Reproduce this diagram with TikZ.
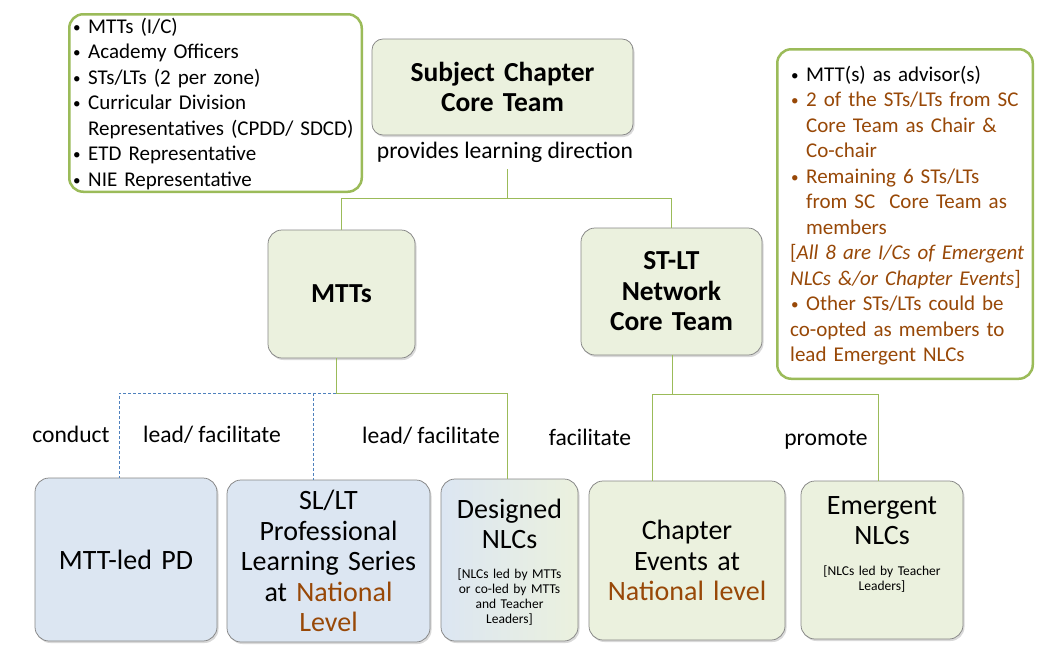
\documentclass[tikz,border=0pt]{standalone}
\usepackage{fontspec}
\setmainfont{Carlito}
\usetikzlibrary{shadows}
\definecolor{boxgreen}{RGB}{235,241,222}
\definecolor{boxblue}{RGB}{220,230,242}
\definecolor{midblue}{RGB}{187,206,230}
\definecolor{olivegreen}{RGB}{155,187,89}
\definecolor{dashblue}{RGB}{79,129,189}
\definecolor{natbrown}{RGB}{152,72,7}
\definecolor{edgegray}{RGB}{134,134,134}
\newcommand{\mybul}{\makebox[16pt][l]{\hspace{1pt}\raisebox{1pt}{\scalebox{0.72}{\textbullet}}}}
\newcommand{\bfirst}[1]{\hangindent=16pt\hangafter=1\mybul#1}
\newcommand{\bitem}[1]{\par\hangindent=16pt\hangafter=1\noindent\mybul#1}
\begin{document}
\begin{tikzpicture}[x=1pt,y=-1pt,
  ubox/.style={draw=edgegray, line width=0.75pt, rounded corners=14pt,
    drop shadow={shadow xshift=1.5pt, shadow yshift=-2pt, opacity=0.3, fill=black!50},
    inner sep=0pt, align=center},
  hdtext/.style={font=\bfseries\fontsize{27.5}{30.5}\selectfont},
  btext/.style={font=\fontsize{28}{30.5}\selectfont},
  smalltext/.style={anchor=base, inner sep=0pt, text width=135pt, align=center,
    font=\fontsize{13.5}{15}\selectfont},
  lbltext/.style={anchor=base, inner sep=0pt, font=\fontsize{23.6}{28}\selectfont},
  listbox/.style={draw=olivegreen, line width=2.5pt, rounded corners=14pt, fill=white},
  listtext/.style={anchor=base west, inner sep=0pt, font=\fontsize{21}{25.5}\selectfont},
  conn/.style={draw=olivegreen, line width=1pt},
  dconn/.style={draw=dashblue, line width=0.8pt, dash pattern=on 3pt off 2pt}
]
\useasboundingbox (0,0) rectangle (1043,654);

% left list
\node[listbox, minimum width=292.5pt, minimum height=177.5pt] (lbox) at (215.5,103) {};
\node[listtext, text width=290pt] (ltext) at (72,33) {\raggedright
\bfirst{MTTs (I/C)}
\bitem{Academy Officers}
\bitem{STs/LTs (2 per zone)}
\bitem{Curricular Division\newline Representatives (CPDD/ SDCD)}
\bitem{ETD Representative}
\bitem{NIE Representative}};

% right list
\node[listbox, minimum width=255.5pt, minimum height=329.5pt] (rbox) at (905,214) {};
\node[listtext, text width=245pt] (rtext) at (790,81) {\raggedright
\bfirst{MTT(s) as advisor(s)}\color{natbrown}
\bitem{2 of the STs/LTs from SC\newline Core Team as Chair \&\newline Co-chair}
\bitem{Remaining 6 STs/LTs\newline from SC\ \ Core Team as\newline members}
\par\noindent[\textit{All 8 are I/Cs of Emergent\newline NLCs \&/or Chapter Events}]
\bitem{Other STs/LTs could be\newline co-opted as members to\newline lead Emergent NLCs}};

% top
\node[ubox, fill=boxgreen, hdtext, rounded corners=11pt, minimum width=261pt, minimum height=96pt, text width=250pt] (sc) at (502.5,87) {Subject Chapter\\Core Team};
\node[lbltext] (pld) at (505,158) {provides learning direction};

\node[ubox, fill=boxgreen, hdtext, minimum width=147pt, minimum height=128pt, text width=140pt] (mtts) at (341.5,294) {MTTs};
\node[ubox, fill=boxgreen, hdtext, minimum width=181pt, minimum height=127pt, text width=175pt] (stlt) at (671.5,291.5) {ST-LT\\Network\\Core Team};

% bottom
\node[ubox, fill=boxblue, btext, minimum width=182pt, minimum height=163pt, text width=175pt] (mttpd) at (126,559.5) {MTT-led PD};
\node[ubox, fill=boxblue, btext, minimum width=203pt, minimum height=162pt, text width=198pt] (sllt) at (328.5,561) {SL/LT\\Professional\\Learning Series\\at \textcolor{natbrown}{National}\\\textcolor{natbrown}{Level}};
\node[ubox, left color=boxblue, middle color=midblue, right color=boxgreen, minimum width=137pt, minimum height=162pt] (dnlc) at (509.5,560) {};
\node[btext, anchor=base, inner sep=0pt, text width=135pt, align=center] (dnlct) at (509.5,518) {Designed\\NLCs};
\node[smalltext] (dnlcs) at (509.5,578) {[NLCs led by MTTs\\or co-led by MTTs\\and Teacher\\Leaders]};
\node[ubox, fill=boxgreen, btext, minimum width=196pt, minimum height=159pt, text width=190pt] (chap) at (687,560.5) {Chapter\\Events at\\\textcolor{natbrown}{National level}};
\node[ubox, fill=boxgreen, minimum width=162pt, minimum height=158pt] (emg) at (882,560) {};
\node[btext, anchor=base, inner sep=0pt, text width=155pt, align=center] (emgt) at (882,514) {Emergent\\NLCs};
\node[smalltext, text width=155pt] (emgs) at (882,575) {[NLCs led by Teacher\\Leaders]};

% labels
\node[lbltext] (lconduct) at (71,442) {conduct};
\node[lbltext] (llead1) at (212,442) {lead/ facilitate};
\node[lbltext] (llead2) at (431,443) {lead/ facilitate};
\node[lbltext] (lfac) at (590,445) {facilitate};
\node[lbltext] (lprom) at (826,445) {promote};

% connectors
\coordinate (j1) at (507,198);
\draw[conn] (j1 |- pld.south) ++(0,7) -- (j1);
\draw[conn] (j1) -| (mtts.north);
\draw[conn] (j1) -| (stlt.north);

\coordinate (j2) at (336,393);
\coordinate (jd) at (507,393);
\coordinate (jl) at (119,393);
\coordinate (jm) at (313,393);
\draw[conn] (j2 |- mtts.south) -- (j2) -- (jd) -- (jd |- dnlc.north);
\draw[dconn] (j2) -- (jl) -- (jl |- mttpd.north);
\draw[dconn] (jm) -- (jm |- sllt.north);

\coordinate (j3) at (672,394);
\coordinate (jc) at (652,394);
\coordinate (je) at (878,394);
\draw[conn] (j3 |- stlt.south) -- (j3);
\draw[conn] (jc) -- (je);
\draw[conn] (jc) -- (jc |- chap.north);
\draw[conn] (je) -- (je |- emg.north);
\end{tikzpicture}
\end{document}
